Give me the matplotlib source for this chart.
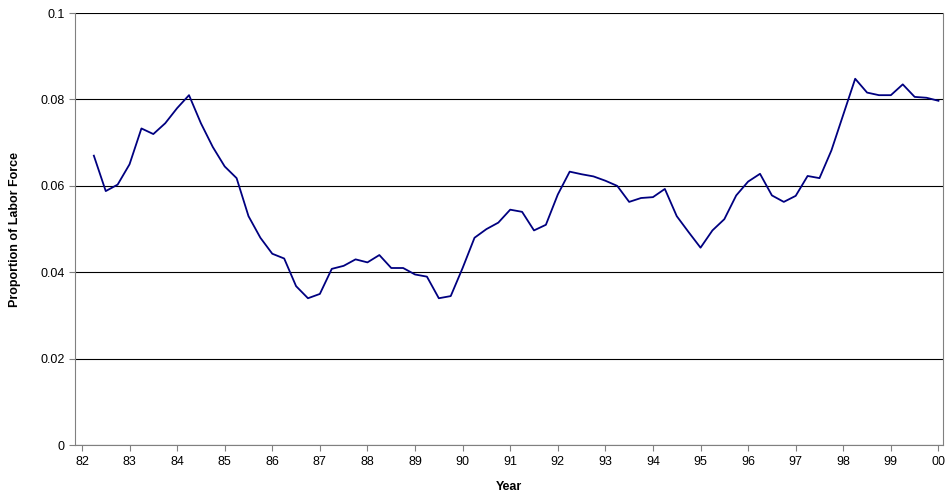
import matplotlib
matplotlib.use('Agg')
import matplotlib.pyplot as plt
import numpy as np

plt.rcParams['font.family'] = ['Liberation Sans', 'DejaVu Sans']

# quarterly observations, 1982Q2 .. 2000Q1
start_year = 82.25
values = [0.067, 0.0588, 0.0603, 0.065, 0.0733, 0.072, 0.0745, 0.078, 0.081, 0.0745,
          0.069, 0.0645, 0.0618, 0.053, 0.048, 0.0443, 0.0432, 0.0368, 0.034, 0.035,
          0.0408, 0.0415, 0.043, 0.0423, 0.044, 0.041, 0.041, 0.0395, 0.039, 0.034,
          0.0345, 0.041, 0.048, 0.050, 0.0515, 0.0545, 0.054, 0.0497, 0.051, 0.058,
          0.0633, 0.0627, 0.0622, 0.0612, 0.060, 0.0563, 0.0572, 0.0574, 0.0593, 0.053,
          0.0493, 0.0457, 0.0497, 0.0523, 0.0578, 0.061, 0.0628, 0.0578, 0.0563, 0.0577,
          0.0623, 0.0618, 0.0682, 0.0765, 0.0848, 0.0816, 0.081, 0.081, 0.0835, 0.0806,
          0.0804, 0.0797]
years = start_year + 0.25 * np.arange(len(values))
tick_years = list(range(82, 101))
tick_labels = [str(y % 100).zfill(2) for y in tick_years]

fig = plt.figure(figsize=(9.47, 5.03), dpi=100)
ax = fig.add_axes([0.079, 0.115, 0.917, 0.859])
ax.plot(years, values, color='#000080', linewidth=1.3)

ax.set_xlim(81.85, 100.1)
ax.set_ylim(0, 0.1)
ax.set_xticks(tick_years)
ax.set_xticklabels(tick_labels, fontsize=9)
ax.set_yticks([0, 0.02, 0.04, 0.06, 0.08, 0.1])
ax.set_yticklabels(['0', '0.02', '0.04', '0.06', '0.08', '0.1'], fontsize=9)
ax.yaxis.grid(True, color='black', linewidth=0.8)
ax.set_axisbelow(True)
for s in ['left', 'bottom', 'right']:
    ax.spines[s].set_color('#808080')
ax.spines['top'].set_visible(False)
ax.tick_params(direction='out', length=4, color='#808080')
ax.set_xlabel('Year', fontsize=9, fontweight='bold', labelpad=10)
ax.set_ylabel('Proportion of Labor Force', fontsize=9, fontweight='bold', labelpad=14)

fig.savefig('out.png', dpi=100)
